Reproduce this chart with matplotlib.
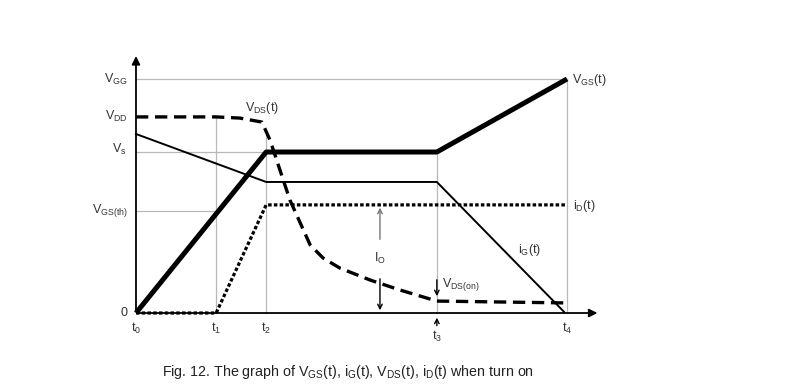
import matplotlib
matplotlib.use("Agg")
import matplotlib.pyplot as plt

plt.rcParams['font.family'] = ['Liberation Sans', 'DejaVu Sans']
plt.rcParams['mathtext.fontset'] = 'custom'
plt.rcParams['mathtext.rm'] = 'Liberation Sans'
plt.rcParams['mathtext.it'] = 'Liberation Sans'

# time marks
t_names = ['t$_0$', 't$_1$', 't$_2$', 't$_3$', 't$_4$']
t_vals = [0.0, 1.86, 3.02, 6.98, 10.0]

# levels
V_GG = 10.0
V_DD = 8.38
V_s = 6.88
V_GSth = 4.36
I_O = 4.62

# waveforms
vgs_t = [0.0, 3.02, 6.98, 10.0]
vgs_v = [0.0, 6.88, 6.88, 10.0]

ig_t = [0.0, 3.02, 6.98, 9.93]
ig_v = [7.65, 5.60, 5.60, 0.05]

vds_t = [0.0, 1.86, 2.41, 2.92, 3.11, 3.34, 3.57, 3.81, 4.04, 4.34, 4.73, 5.43, 6.13, 6.98, 10.0]
vds_v = [8.38, 8.38, 8.33, 8.16, 7.39, 6.11, 4.83, 3.85, 2.91, 2.35, 1.92, 1.41, 0.98, 0.51, 0.43]

id_t = [0.0, 1.86, 3.02, 10.0]
id_v = [0.0, 0.0, 4.62, 4.62]

fig = plt.figure(figsize=(8.11, 3.87), dpi=100)
ax = fig.add_axes([0, 0, 1, 1])
ax.set_xlim(-3.155, 15.66)
ax.set_ylim(-3.162, 13.376)
ax.axis('off')

grid_c = '#b8b8b8'
# horizontal guides
ax.plot([0, t_vals[4]], [V_GG, V_GG], color=grid_c, lw=0.9)
ax.plot([0, t_vals[2]], [V_s, V_s], color=grid_c, lw=0.9)
ax.plot([0, t_vals[1]], [V_GSth, V_GSth], color=grid_c, lw=0.9)
# vertical guides
ax.plot([t_vals[1], t_vals[1]], [0, V_DD], color=grid_c, lw=0.9)
ax.plot([t_vals[2], t_vals[2]], [0, 7.8], color=grid_c, lw=0.9)
ax.plot([t_vals[3], t_vals[3]], [0, V_s], color=grid_c, lw=0.9)
ax.plot([t_vals[4], t_vals[4]], [0, V_GG], color=grid_c, lw=0.9)

# axes with arrows
ax.annotate('', xy=(10.77, 0), xytext=(0, 0),
            arrowprops=dict(arrowstyle='-|>', color='black', lw=1.3, mutation_scale=12))
ax.annotate('', xy=(0, 11.1), xytext=(0, 0),
            arrowprops=dict(arrowstyle='-|>', color='black', lw=1.3, mutation_scale=12))

# curves
ax.plot(id_t, id_v, color='black', lw=2.3, dashes=(1.1, 0.7), solid_capstyle='butt')
ax.plot(ig_t, ig_v, color='black', lw=1.4)
ax.plot(vds_t, vds_v, color='black', lw=2.4, dashes=(3.7, 2.0))
ax.plot(vgs_t, vgs_v, color='black', lw=3.6, solid_capstyle='butt')

tc = '#333333'
fs = 9
# y labels
ax.text(-0.19, V_GG, r'V$_{\mathrm{GG}}$', ha='right', va='center', fontsize=fs, color=tc)
ax.text(-0.19, V_DD, r'V$_{\mathrm{DD}}$', ha='right', va='center', fontsize=fs, color=tc)
ax.text(-0.22, V_s + 0.1, r'V$_{\mathrm{s}}$', ha='right', va='center', fontsize=fs, color=tc)
ax.text(-0.19, V_GSth, r'V$_{\mathrm{GS(th)}}$', ha='right', va='center', fontsize=fs, color=tc)
ax.text(-0.2, 0, '0', ha='right', va='center', fontsize=fs, color=tc)

# t labels
for i, (n, v) in enumerate(zip(t_names, t_vals)):
    yy = -1.0 if i == 3 else -0.64
    ax.text(v, yy, n, ha='center', va='center', fontsize=fs, color=tc)

# t3 arrow
ax.annotate('', xy=(t_vals[3], -0.08), xytext=(t_vals[3], -0.66),
            arrowprops=dict(arrowstyle='->', color='black', lw=1.0, mutation_scale=8))

# curve labels
ax.text(2.92, 8.76, r'V$_{\mathrm{DS}}$(t)', ha='center', va='center', fontsize=fs, color=tc)
ax.text(10.12, 9.96, r'V$_{\mathrm{GS}}$(t)', ha='left', va='center', fontsize=fs, color=tc)
ax.text(10.14, 4.57, r'i$_{\mathrm{D}}$(t)', ha='left', va='center', fontsize=fs, color=tc)
ax.text(8.86, 2.69, r'i$_{\mathrm{G}}$(t)', ha='left', va='center', fontsize=fs, color=tc)

# Io annotation
ax.text(5.66, 2.35, r'I$_{\mathrm{O}}$', ha='center', va='center', fontsize=fs, color=tc)
ax.annotate('', xy=(5.66, I_O), xytext=(5.66, 3.03),
            arrowprops=dict(arrowstyle='->', color='#777777', lw=1.0, mutation_scale=8))
ax.annotate('', xy=(5.66, 0.0), xytext=(5.66, 1.58),
            arrowprops=dict(arrowstyle='->', color='black', lw=1.0, mutation_scale=8))

# VDS(on)
ax.text(7.1, 1.2, r'V$_{\mathrm{DS(on)}}$', ha='left', va='center', fontsize=fs, color=tc)
ax.annotate('', xy=(t_vals[3], 0.6), xytext=(t_vals[3], 1.54),
            arrowprops=dict(arrowstyle='->', color='black', lw=1.0, mutation_scale=8))

# caption
ax.text(0.6, -2.52, r'Fig. 12. The graph of V$_{\mathrm{GS}}$(t), i$_{\mathrm{G}}$(t), V$_{\mathrm{DS}}$(t), i$_{\mathrm{D}}$(t) when turn on',
        ha='left', va='center', fontsize=10.3, color='#222222')

fig.savefig('out.png', dpi=100)
